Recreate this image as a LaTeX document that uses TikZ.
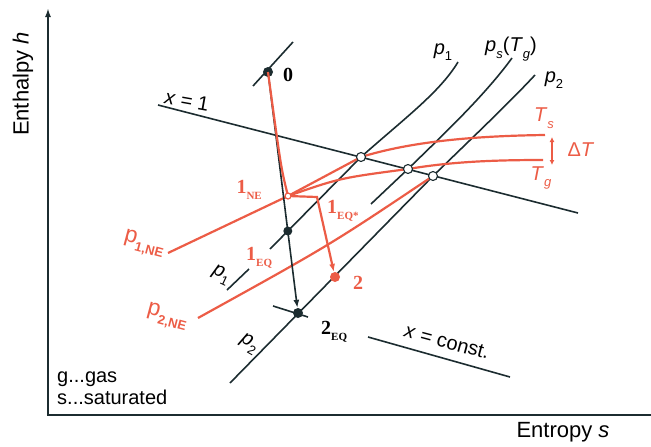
\documentclass[tikz,border=0pt]{standalone}
\usepackage{fontspec}
\setmainfont{Liberation Sans}
\newfontfamily\ptfont{Liberation Serif}
\usepackage{tikz}
\usetikzlibrary{calc, arrows.meta}
\usetikzlibrary{positioning}
\definecolor{nered}{RGB}{236,92,70}
\definecolor{linec}{RGB}{28,44,48}
\newcommand{\vsub}[2]{\textit{#1}\raisebox{-0.32em}{\fontsize{13}{13}\selectfont #2}}
\newcommand{\ptsub}[2]{#1\raisebox{-0.3em}{\fontsize{11}{11}\selectfont #2}}

\begin{document}
\begin{tikzpicture}[x=1pt, y=-1pt,
        isobar/.style={linec, line width=1.6pt},
        nonequ/.style={nered, line width=2.2pt},
        blackdot/.style={circle, fill=linec, inner sep=0pt, minimum size=10pt},
        ring/.style={circle, draw=linec, fill=white, line width=1.1pt, inner sep=0pt, minimum size=9pt},
        lab/.style={inner sep=1pt, font=\fontsize{20}{24}\selectfont},
        ptlab/.style={inner sep=1pt, font=\ptfont\bfseries\fontsize{20}{24}\selectfont},
        >={Latex[length=8pt, width=6pt]}]
        \useasboundingbox (0,0) rectangle (651,447);

        \coordinate (O) at (48,415);
        \coordinate (Htop) at (48,8);
        \coordinate (Send) at (651,415);
        \draw[linec, line width=2.4pt, -{Latex[length=9pt, width=6pt]}] (O) -- (Htop);
        \draw[linec, line width=2.4pt] ($(O)+(-1.2,0)$) -- (Send);
        \node[lab, rotate=90, font=\fontsize{22}{26}\selectfont] (hlab) at (23,84) {Enthalpy \textit{h}};
        \node[lab, font=\fontsize{22}{26}\selectfont] (slab) at (563,432) {Entropy \textit{s}};
        \node[lab, anchor=base west] (lgas) at (56,382) {g...gas};
        \node[lab, anchor=base west] (lsat) at (56,404) {s...saturated};

        % states and crossings
        \coordinate (P0) at (268,72);
        \coordinate (P2EQ) at (298,313);
        \coordinate (P2) at (335,277);
        \coordinate (N1) at (288,196);
        \coordinate (Q1) at (317,197);
        \coordinate (A) at (361,157);
        \coordinate (B) at (408,169);
        \coordinate (C) at (433,176);
        \coordinate (X1a) at (158,105);
        \coordinate (X1b) at (578,213);
        \coordinate (P1lo) at (270,249);
        \coordinate (PSlo) at (371,204);
        \coordinate (P2lo) at (230,383);
        \coordinate (E1) at (intersection of P0--P2EQ and P1lo--A);

        % x = 1 and x = const.
        \draw[isobar] (X1a) -- (X1b);
        \node[lab, rotate=-10] (x1lab) at (187,101) {\textit{x} = 1};
        \coordinate (XCa) at (368,337);
        \coordinate (XCb) at (510,377);
        \draw[isobar] (XCa) -- (XCb);
        \node[lab, rotate=-15] (xclab) at (447,342) {\textit{x} = const.};

        % isobars
        \draw[isobar] (P1lo) -- (A) .. controls (405,118) and (440,92) .. (458,62);
        \draw[isobar] (PSlo) -- (B) .. controls (445,133) and (485,95) .. (512,58);
        \draw[isobar] (P2lo) -- (C) .. controls (470,140) and (510,102) .. (535,75);
        \node[lab] (p1lab) at (443,52) {\vsub{p}{1}};
        \node[lab] (pslab) at (511,49) {\vsub{p}{\textit{s}}(\vsub{T}{\textit{g}})};
        \node[lab] (p2lab) at (554,80) {\vsub{p}{2}};
        \node[lab, rotate=-25] (p1low) at (221,275) {\vsub{p}{1}};
        \draw[isobar] (227,290) -- (249,269);
        \node[lab, rotate=-30] (p2low) at (249,344) {\vsub{p}{2}};
        \draw[isobar] (253,86) -- (293,42);
        \draw[isobar] (273,306) -- (308,317);

        % non-equilibrium lines
        \coordinate (NE1a) at (168,253);
        \coordinate (NE2a) at (198,318);
        \coordinate (Tse) at (545,135);
        \coordinate (Tge) at (543,160);
        \draw[nonequ] (NE1a) -- (N1) -- (A) .. controls (410,142) and (470,136) .. (Tse);
        \draw[nonequ] (N1) .. controls (340,178) .. (B) .. controls (450,162) and (490,160) .. (Tge);
        \draw[nonequ] (NE2a) .. controls (330,245) .. (C);
        \node[inner sep=1pt, text=nered, rotate=-15, font=\fontsize{23}{26}\selectfont] (p1nelab) at (144,244) {p\raisebox{-0.3em}{\fontsize{13}{13}\selectfont\bfseries 1,NE}};
        \node[inner sep=1pt, text=nered, rotate=-15, font=\fontsize{23}{26}\selectfont] (p2nelab) at (167,317) {p\raisebox{-0.3em}{\fontsize{13}{13}\selectfont\bfseries 2,NE}};
        \node[lab, text=nered] (tslab) at (544,118) {\vsub{T}{\textit{s}}};
        \node[lab, text=nered] (tglab) at (541,178) {\vsub{T}{\textit{g}}};
        \coordinate (dTa) at (552,137);
        \coordinate (dTb) at (552,165);
        \draw[nered, line width=1.6pt, {Latex[length=5pt, width=5pt]}-{Latex[length=5pt, width=5pt]}] (dTa) -- (dTb);
        \node[lab, text=nered] (dtlab) at (581,150) {Δ\textit{T}};

        % expansion paths
        \node[blackdot] (d0) at (P0) {};
        \node[blackdot] (d2eq) at (P2EQ) {};
        \node[blackdot, fill=nered] (d2) at (P2) {};
        \draw[isobar, ->] (d0) -- (d2eq);
        \draw[nonequ] (P0) .. controls (281,168) .. (N1);
        \draw[nonequ, ->] (N1) -- (Q1) -- (d2);
        \node[blackdot, minimum size=9pt] (d1eq) at (E1) {};
        \node[circle, draw=nered, fill=white, line width=1.2pt, inner sep=0pt, minimum size=6pt] (r1ne) at (N1) {};
        \node[ring] (rA) at (A) {};
        \node[ring] (rB) at (B) {};
        \node[ring] (rC) at (C) {};

        \node[ptlab] (l0) at (288,75) {0};
        \node[ptlab, text=nered, anchor=east] (l1ne) at (263,190) {\ptsub{1}{NE}};
        \node[ptlab, text=nered, anchor=west] (l1eqs) at (326,211) {\ptsub{1}{EQ*}};
        \node[ptlab, text=nered, anchor=west] (l1eq) at (245,258) {\ptsub{1}{EQ}};
        \node[ptlab, text=nered] (l2) at (358,283) {2};
        \node[ptlab, anchor=west] (l2eq) at (320,332) {\ptsub{2}{EQ}};
\end{tikzpicture}
\end{document}
